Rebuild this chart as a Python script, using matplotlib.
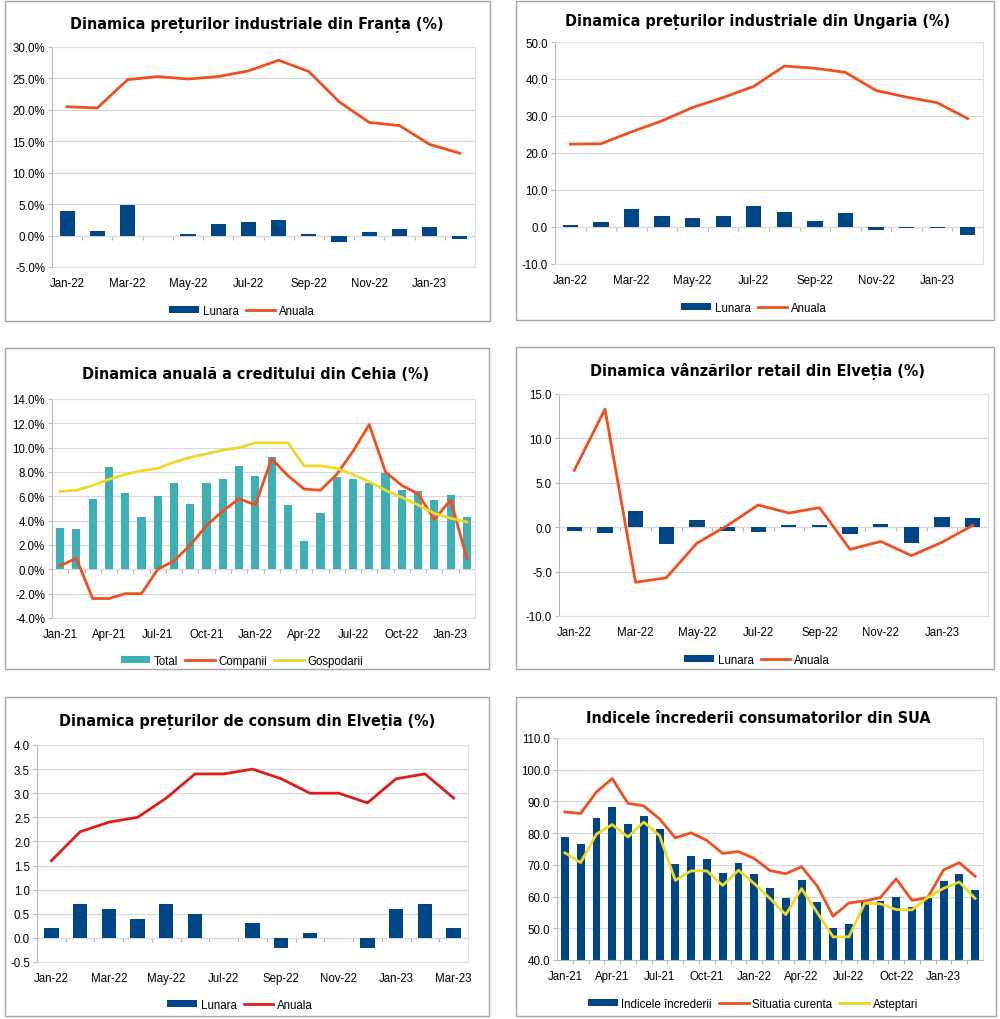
import numpy as np
import pandas as pd
import matplotlib
matplotlib.use("Agg")
import matplotlib.pyplot as plt
from matplotlib.patches import Rectangle, Patch
from matplotlib.lines import Line2D
from matplotlib import font_manager

# ---- data ----
fr_lunara = [3.9, 0.7, 4.9, 0.0, 0.2, 1.8, 2.2, 2.5, 0.3, -1.1, 0.6, 1.1, 1.4, -0.6]
fr_anuala = [20.5, 20.3, 24.8, 25.3, 24.9, 25.3, 26.2, 27.9, 26.1, 21.3, 18.0, 17.5, 14.5, 13.1]

hu_lunara = [0.6, 1.4, 4.9, 3.0, 2.4, 3.0, 5.7, 4.1, 1.7, 3.8, -0.7, -0.2, -0.3, -2.2]
hu_anuala = [22.4, 22.5, 25.7, 28.7, 32.3, 35.0, 38.0, 43.5, 42.9, 41.8, 36.9, 35.1, 33.6, 29.3]

cz_total = [3.4, 3.3, 5.8, 8.4, 6.3, 4.3, 6.0, 7.1, 5.4, 7.1, 7.4, 8.5, 7.7,
            9.2, 5.3, 2.3, 4.6, 7.6, 7.4, 7.1, 7.9, 6.5, 6.4, 5.7, 6.1, 4.3]
cz_companii = [0.3, 0.9, -2.4, -2.4, -2.0, -2.0, 0.0, 0.7, 2.0, 3.6, 4.8, 5.8, 5.3,
               9.1, 7.7, 6.6, 6.5, 7.8, 9.7, 11.9, 8.0, 6.9, 6.2, 4.1, 5.7, 0.9]
cz_gospodarii = [6.4, 6.5, 6.9, 7.4, 7.8, 8.1, 8.3, 8.8, 9.2, 9.5, 9.8, 10.0, 10.4,
                 10.4, 10.4, 8.5, 8.5, 8.3, 7.8, 7.2, 6.5, 5.9, 5.3, 4.6, 4.2, 3.9]

ch_retail_lunara = [-0.4, -0.6, 1.8, -1.9, 0.8, -0.4, -0.5, 0.3, 0.2, -0.8, 0.4, -1.8, 1.1, 1.0]
ch_retail_anuala = [6.4, 13.3, -6.2, -5.7, -1.8, 0.2, 2.5, 1.6, 2.2, -2.5, -1.6, -3.2, -1.7, 0.2]

ch_cpi_lunara = [0.2, 0.7, 0.6, 0.4, 0.7, 0.5, 0.0, 0.3, -0.2, 0.1, 0.0, -0.2, 0.6, 0.7, 0.2]
ch_cpi_anuala = [1.6, 2.2, 2.4, 2.5, 2.9, 3.4, 3.4, 3.5, 3.3, 3.0, 3.0, 2.8, 3.3, 3.4, 2.9]

us_index = [78.8, 76.6, 84.9, 88.3, 82.9, 85.5, 81.2, 70.3, 72.8, 71.7, 67.4, 70.6, 67.2, 62.8,
            59.4, 65.2, 58.4, 50.0, 51.5, 58.2, 58.6, 59.9, 56.8, 59.7, 64.9, 67.0, 62.0]
us_curenta = [86.7, 86.2, 93.0, 97.2, 89.4, 88.6, 84.5, 78.5, 80.1, 77.7, 73.6, 74.2, 72.0, 68.2,
              67.2, 69.4, 63.3, 53.8, 58.0, 58.6, 59.7, 65.6, 58.8, 59.7, 68.4, 70.7, 66.4]
us_asteptari = [73.8, 70.7, 79.7, 82.7, 78.8, 83.5, 79.2, 65.1, 68.1, 68.1, 63.5, 68.3, 64.1, 59.4,
                54.3, 62.5, 54.9, 47.3, 47.3, 57.9, 57.7, 55.9, 55.8, 59.7, 62.6, 64.6, 59.4]

months_22 = pd.date_range("2022-01-01", periods=15, freq="MS").strftime("%b-%y").tolist()
months_21 = pd.date_range("2021-01-01", periods=27, freq="MS").strftime("%b-%y").tolist()

BLUE = "#004586"
ORANGE = "#f24f1f"
YELLOW = "#f0d828"
TEAL = "#3cb0b4"
RED = "#e01b1b"
GRID = "#d9d9d9"
FRAME = "#b8b8b8"

plt.rcParams["font.family"] = ["Liberation Sans", "DejaVu Sans"]
names = {f.name for f in font_manager.fontManager.ttflist}
if "Liberation Sans Narrow" in names:
    title_font = dict(family="Liberation Sans Narrow", fontweight="bold", fontsize=13)
else:
    title_font = dict(family="DejaVu Sans", fontstretch="condensed", fontweight="bold", fontsize=11.5)

W, H = 1000, 1020
fig = plt.figure(figsize=(W / 100, H / 100), dpi=100)


def px_axes(l, t, r, b):
    return fig.add_axes([l / W, 1 - b / H, (r - l) / W, (b - t) / H])


def panel(box, plot, title, title_x, legend_xy, ylim, ystep, fmt, labels, every, axis_at_zero=True):
    l, t, r, b = box
    fig.patches.append(Rectangle((l / W, 1 - b / H), (r - l) / W, (b - t) / H,
                                 transform=fig.transFigure, fill=False,
                                 edgecolor="#a6a6a6", linewidth=1.0))
    fig.text(title_x / W, 1 - (t + (plot[1] - t) * 0.5) / H, title,
             ha="center", va="center", color="black", **title_font)
    ax = px_axes(*plot)
    n = len(labels)
    ax.set_xlim(-0.5, n - 0.5)
    ax.set_ylim(*ylim)
    ax.set_yticks(np.arange(ylim[0], ylim[1] + ystep / 2, ystep))
    ax.yaxis.set_major_formatter(matplotlib.ticker.FormatStrFormatter(fmt))
    ax.set_xticks(np.arange(0, n, every))
    ax.set_xticklabels(labels[::every])
    ax.tick_params(axis="x", length=0, pad=7, labelsize=8.3, colors="black")
    ax.tick_params(axis="y", length=3, width=0.8, color=FRAME, pad=2, labelsize=8.3, labelcolor="black")
    ax.grid(axis="y", color=GRID, linewidth=0.8)
    ax.set_axisbelow(True)
    for s in ax.spines.values():
        s.set_color("#e0e0e0")
        s.set_linewidth(0.8)
    ax.spines["left"].set_color(FRAME)
    bounds = np.arange(n - 1) + 0.5
    if axis_at_zero:
        frac = (0 - ylim[0]) / (ylim[1] - ylim[0])
        sec = ax.secondary_xaxis(frac)
        sec.set_xticks(bounds)
        sec.set_xticklabels([])
        sec.tick_params(direction="out", length=3, width=0.8, color=FRAME)
        sec.spines["bottom"].set_color(FRAME)
        sec.spines["bottom"].set_linewidth(0.8)
    else:
        ax.set_xticks(bounds, minor=True)
        ax.tick_params(axis="x", which="minor", length=3, width=0.8, color=FRAME)
        ax.spines["bottom"].set_color(FRAME)
    return ax


def add_legend(xy, handles, labels):
    fig.legend(handles, labels, loc="center", bbox_to_anchor=(xy[0] / W, 1 - xy[1] / H),
               ncol=len(handles), frameon=False, fontsize=8.3, handlelength=2.6,
               handleheight=0.55, handletextpad=0.3, columnspacing=0.6)


def bar_h(c):
    return Patch(facecolor=c, edgecolor="none")


def line_h(c):
    return Line2D([], [], color=c, linewidth=2)


# ---- Franta ----
x = np.arange(len(fr_lunara))
ax = panel((5, 2, 490, 322), (52, 48, 475, 268), "Dinamica prețurilor industriale din Franța (%)",
           257, None, (-5, 30), 5, "%.1f%%", months_22[:14], 2)
ax.bar(x, fr_lunara, width=0.5, color=BLUE, zorder=2)
ax.plot(x, fr_anuala, color=ORANGE, linewidth=2, zorder=3)
add_legend((242, 312), [bar_h(BLUE), line_h(ORANGE)], ["Lunara", "Anuala"])

# ---- Ungaria ----
x = np.arange(len(hu_lunara))
ax = panel((516, 2, 994, 321), (555, 43, 983, 265), "Dinamica prețurilor industriale din Ungaria (%)",
           758, None, (-10, 50), 10, "%.1f", months_22[:14], 2)
ax.bar(x, hu_lunara, width=0.5, color=BLUE, zorder=2)
ax.plot(x, hu_anuala, color=ORANGE, linewidth=2, zorder=3)
add_legend((754, 309), [bar_h(BLUE), line_h(ORANGE)], ["Lunara", "Anuala"])

# ---- Cehia ----
x = np.arange(len(cz_total))
ax = panel((5, 349, 489, 670), (52, 400, 475, 619), "Dinamica anuală a creditului din Cehia (%)",
           256, None, (-4, 14), 2, "%.1f%%", months_21[:26], 3)
ax.bar(x, cz_total, width=0.5, color=TEAL, zorder=2)
ax.plot(x, cz_companii, color=ORANGE, linewidth=2, zorder=3)
ax.plot(x, cz_gospodarii, color=YELLOW, linewidth=2, zorder=3)
add_legend((242, 662), [bar_h(TEAL), line_h(ORANGE), line_h(YELLOW)],
           ["Total", "Companii", "Gospodarii"])

# ---- Elvetia retail ----
x = np.arange(len(ch_retail_lunara))
ax = panel((516, 348, 994, 670), (559, 395, 988, 617), "Dinamica vânzărilor retail din Elveția (%)",
           758, None, (-10, 15), 5, "%.1f", months_22[:14], 2)
ax.bar(x, ch_retail_lunara, width=0.5, color=BLUE, zorder=2)
ax.plot(x, ch_retail_anuala, color=ORANGE, linewidth=2, zorder=3)
add_legend((757, 661), [bar_h(BLUE), line_h(ORANGE)], ["Lunara", "Anuala"])

# ---- Elvetia CPI ----
x = np.arange(len(ch_cpi_lunara))
ax = panel((5, 698, 489, 1017), (37, 746, 468, 963), "Dinamica prețurilor de consum din Elveția (%)",
           247, None, (-0.5, 4.0), 0.5, "%.1f", months_22, 2)
ax.bar(x, ch_cpi_lunara, width=0.5, color=BLUE, zorder=2)
ax.plot(x, ch_cpi_anuala, color=RED, linewidth=2, zorder=3)
add_legend((240, 1006), [bar_h(BLUE), line_h(RED)], ["Lunara", "Anuala"])

# ---- SUA ----
x = np.arange(len(us_index))
ax = panel((516, 698, 996, 1017), (557, 739, 983, 961), "Indicele încrederii consumatorilor din SUA",
           758, None, (40, 110), 10, "%.1f", months_21, 3, axis_at_zero=False)
ax.bar(x, us_index, width=0.5, color=BLUE, zorder=2)
ax.plot(x, us_curenta, color=ORANGE, linewidth=2, zorder=3)
ax.plot(x, us_asteptari, color=YELLOW, linewidth=2, zorder=3)
add_legend((753, 1005), [bar_h(BLUE), line_h(ORANGE), line_h(YELLOW)],
           ["Indicele încrederii", "Situatia curenta", "Asteptari"])

fig.savefig("out.png", dpi=100, facecolor="white")
